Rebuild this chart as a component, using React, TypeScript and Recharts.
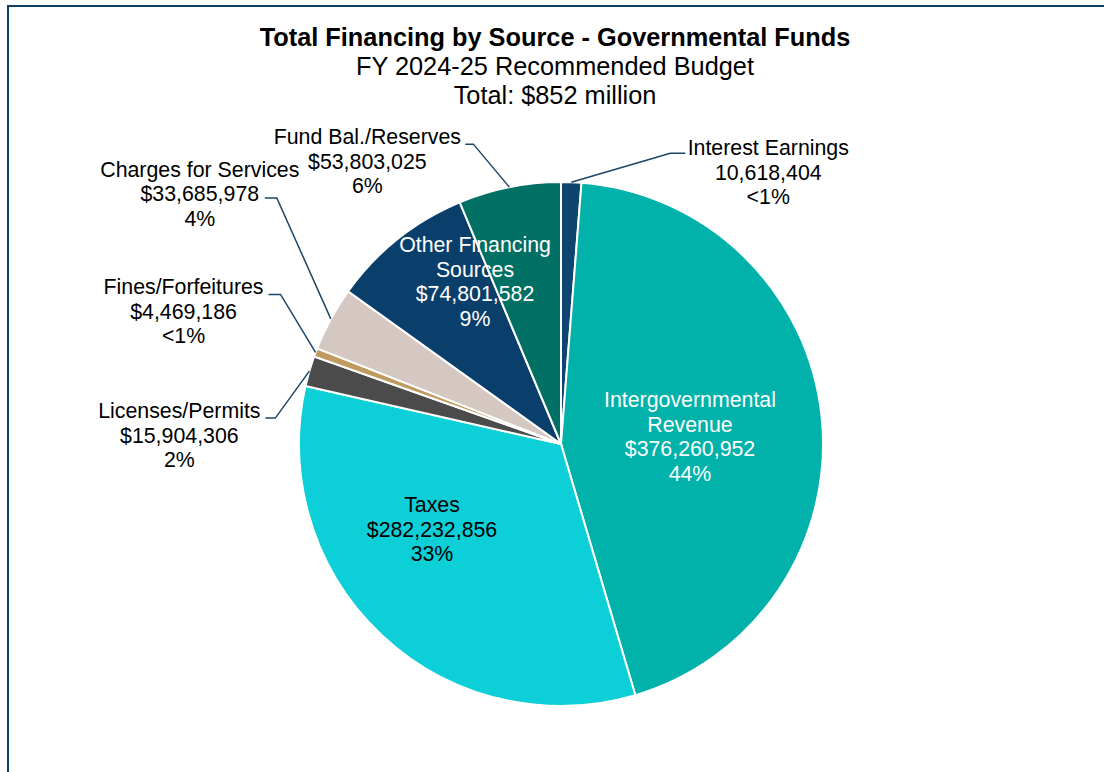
import React from "react";
import { PieChart, Pie, Cell } from "recharts";

const categories = [
  "Interest Earnings",
  "Intergovernmental\nRevenue",
  "Taxes",
  "Licenses/Permits",
  "Fines/Forfeitures",
  "Charges for Services",
  "Other Financing\nSources",
  "Fund Bal./Reserves",
];
const amounts = [
  10618404, 376260952, 282232856, 15904306, 4469186, 33685978, 74801582,
  53803025,
];
const valuePrefix = ["", "$", "$", "$", "$", "$", "$", "$"];
const pctLabels = ["<1%", "44%", "33%", "2%", "<1%", "4%", "9%", "6%"];

const colors = [
  "#0E4470",
  "#00B2A9",
  "#0CCFD8",
  "#4B4B4B",
  "#BF9B5F",
  "#D5C8C3",
  "#0A3F6B",
  "#006F64",
];

const data = categories.map((name, i) => ({ name, value: amounts[i] }));

// label placement, same order as categories
type Layout =
  | { kind: "inside"; dx: number; dy: number; fill: string }
  | {
      kind: "outside";
      elbowDx: number;
      elbowDy: number;
      stub: number;
      textDx: number;
      textDy: number;
    };

const layouts: Layout[] = [
  { kind: "outside", elbowDx: 99, elbowDy: -29, stub: 15, textDx: 83, textDy: 2 },
  { kind: "inside", dx: 129, dy: -37, fill: "#fff" },
  { kind: "inside", dx: -129, dy: 68, fill: "#000" },
  { kind: "outside", elbowDx: -34, elbowDy: 47, stub: -10, textDx: -86, textDy: 0 },
  { kind: "outside", elbowDx: -35, elbowDy: -58, stub: -12, textDx: -85, textDy: 0 },
  { kind: "outside", elbowDx: -54, elbowDy: -121, stub: -12, textDx: -65, textDy: -21 },
  { kind: "inside", dx: -86, dy: -192, fill: "#fff" },
  { kind: "outside", elbowDx: -36, elbowDy: -43, stub: -8, textDx: -98, textDy: 0 },
];

const FONT = "'Liberation Sans', Arial, sans-serif";
const LINE = 24.5;
const RAD = Math.PI / 180;

const renderLabel = (props: any) => {
  const { cx, cy, midAngle, outerRadius, index } = props;
  const lay = layouts[index];
  const lines = [
    ...categories[index].split("\n"),
    valuePrefix[index] + amounts[index].toLocaleString("en-US"),
    pctLabels[index],
  ];
  let tx: number;
  let ty: number;
  let fill = "#000";
  let leader: React.ReactNode = null;
  if (lay.kind === "inside") {
    tx = cx + lay.dx;
    ty = cy + lay.dy;
    fill = lay.fill;
  } else {
    const sx = cx + Math.cos(-midAngle * RAD) * outerRadius;
    const sy = cy + Math.sin(-midAngle * RAD) * outerRadius;
    const ex = sx + lay.elbowDx;
    const ey = sy + lay.elbowDy;
    const hx = ex + lay.stub;
    tx = hx + lay.textDx;
    ty = ey + lay.textDy;
    leader = (
      <polyline
        points={`${sx},${sy} ${ex},${ey} ${hx},${ey}`}
        fill="none"
        stroke="#1A4568"
        strokeWidth={1.5}
      />
    );
  }
  return (
    <g key={`lbl-${index}`}>
      {leader}
      {lines.map((t, i) => (
        <text
          key={i}
          x={tx}
          y={ty + i * LINE}
          textAnchor="middle"
          fill={fill}
          fontSize={21.33}
          fontFamily={FONT}
        >
          {t}
        </text>
      ))}
    </g>
  );
};

const App = () => {
  return (
    <div
      style={{
        position: "fixed",
        left: 0,
        top: 0,
        width: 1104,
        height: 772,
        overflow: "hidden",
        background: "#fff",
        fontFamily: FONT,
      }}
    >
      <div
        style={{
          position: "absolute",
          left: 7,
          top: 5,
          width: 1200,
          height: 900,
          border: "2px solid #0E3F63",
          boxSizing: "border-box",
        }}
      />
      <div
        style={{
          position: "absolute",
          left: 0,
          top: 23,
          width: 1110,
          textAlign: "center",
          fontSize: 25.33,
          lineHeight: "29px",
          color: "#000",
        }}
      >
        <div style={{ fontWeight: "bold" }}>
          Total Financing by Source - Governmental Funds
        </div>
        <div>FY 2024-25 Recommended Budget</div>
        <div>Total: $852 million</div>
      </div>
      <div style={{ position: "absolute", left: 0, top: 0 }}>
        <PieChart
          width={1104}
          height={772}
          margin={{ top: 0, right: 0, bottom: 0, left: 0 }}
        >
          <Pie
            data={data}
            dataKey="value"
            nameKey="name"
            cx={561}
            cy={444}
            outerRadius={262}
            startAngle={90}
            endAngle={-270}
            stroke="#fff"
            strokeWidth={2}
            label={renderLabel}
            labelLine={false}
            isAnimationActive={false}
          >
            {data.map((d, i) => (
              <Cell key={d.name} fill={colors[i]} />
            ))}
          </Pie>
        </PieChart>
      </div>
    </div>
  );
};

export default App;
